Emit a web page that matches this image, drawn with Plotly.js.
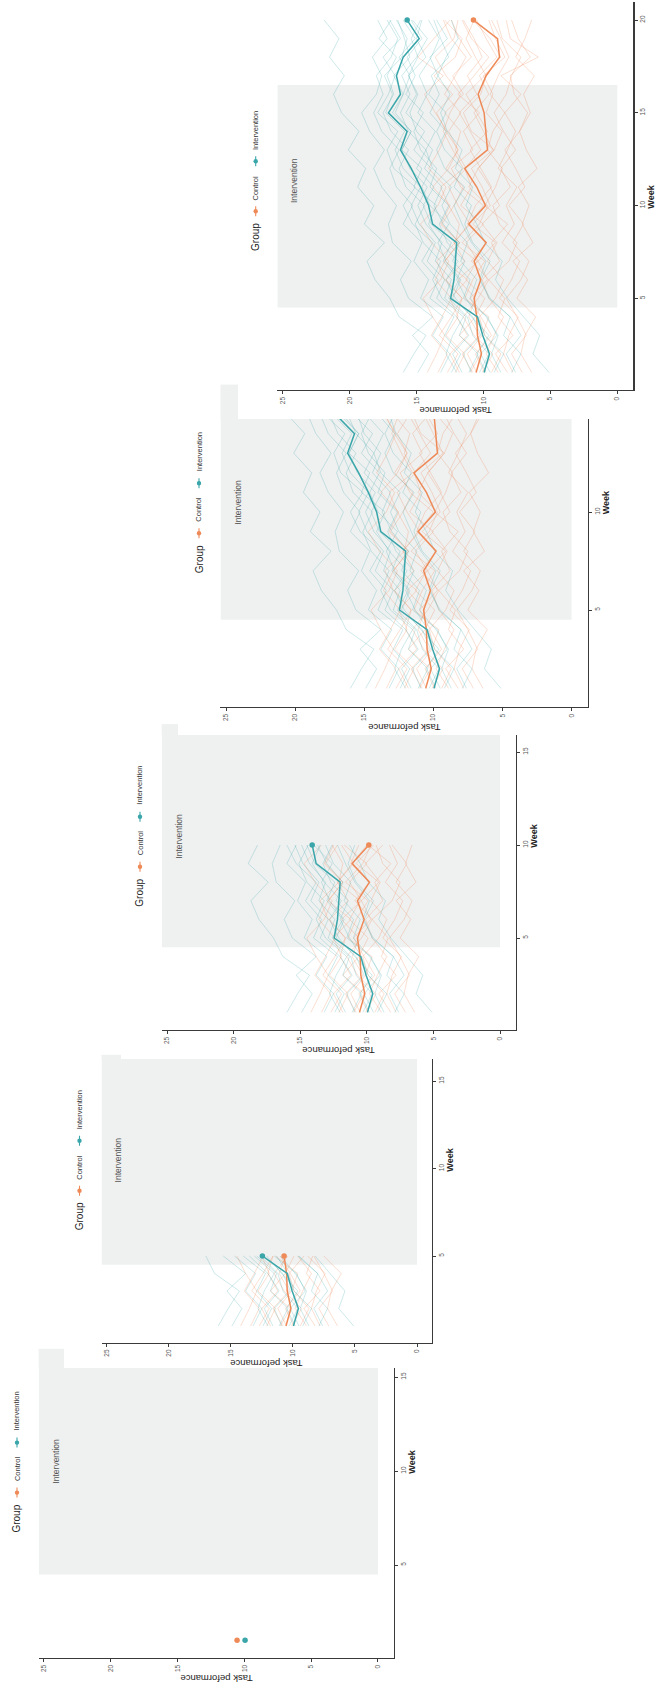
<!DOCTYPE html>
<html><head><meta charset="utf-8">
<script src="https://cdn.plot.ly/plotly-3.0.1.min.js"></script>
<style>html,body{margin:0;padding:0;background:#fff;}#chart{width:656px;height:1690px;}</style>
</head><body><div id="chart"></div>
<script>
// ---------------- DATA ----------------
const weeks = [1,2,3,4,5,6,7,8,9,10,11,12,13,14,15,16,17,18,19,20];
const taskTicks = [0,5,10,15,20,25];
const weekTicks = [5,10,15,20];
const groupNames = ['Control','Intervention'];
const framesShown = [1,5,10,15,20];          // weeks revealed in each successive frame
const interventionWeeks = [4.5, 16.5];

const controlMean = [10.55,10.15,10.45,10.5,10.7,10.2,10.7,9.8,11.1,9.85,10.5,11.4,9.7,9.8,9.95,10.4,9.8,8.8,8.95,10.75];
const interventionMean = [9.95,9.55,10.05,10.45,12.45,12.2,12.1,12.0,13.8,14.1,14.7,15.4,16.2,15.7,17.1,16.2,16.5,16.0,14.8,15.7];

const controlSubjects = [
 [12.1,11.4,12.8,11.9,12.5,11.2,12.9,11.8,13.1,12.2,11.5,12.8,11.9,12.6,11.7,12.9,12.1,11.3,12.4,13.0],
 [8.2,9.1,7.8,8.9,8.4,9.6,8.1,7.5,8.8,9.3,8.0,8.7,7.6,8.5,9.2,8.3,7.9,7.2,8.6,9.0],
 [10.5,11.2,10.1,9.6,11.4,10.8,9.9,11.6,10.3,9.7,11.1,10.4,9.2,10.9,11.5,10.2,9.8,10.6,11.3,10.7],
 [13.4,12.7,13.9,13.1,12.4,13.6,12.9,11.8,13.2,12.5,13.8,12.6,11.9,12.8,13.5,12.3,13.7,12.1,11.6,12.9],
 [7.1,7.9,6.8,7.5,8.3,7.2,6.6,7.8,7.0,8.1,6.9,7.6,8.4,7.3,6.7,7.7,8.0,6.5,7.4,7.9],
 [11.0,10.2,11.8,10.6,9.9,11.3,10.5,12.2,11.1,10.0,11.7,12.4,10.8,11.5,10.3,11.9,10.7,9.6,10.9,11.6],
 [9.4,8.7,9.9,10.3,9.1,8.5,9.7,9.0,10.1,8.8,9.5,10.4,9.2,8.6,9.8,9.3,10.0,8.4,9.1,9.6],
 [14.2,13.5,12.9,13.8,14.5,13.2,12.6,13.9,14.7,13.4,12.8,14.1,13.3,12.7,13.6,14.4,13.0,14.9,13.7,12.5],
 [10.1,9.3,10.7,11.5,10.4,9.6,10.9,9.8,11.2,10.6,9.4,10.2,11.0,9.7,10.5,11.3,9.9,8.7,9.5,10.8],
 [6.4,7.2,6.9,6.1,7.5,6.7,7.8,6.3,7.1,6.6,7.4,6.0,6.8,7.3,6.5,7.0,6.2,7.6,6.9,6.4],
 [11.8,12.5,11.2,12.0,11.6,12.8,11.4,12.2,11.0,11.9,12.6,11.3,12.1,11.7,12.9,11.5,12.3,10.9,11.8,12.4],
 [8.9,9.8,9.2,8.5,9.6,10.1,8.8,9.4,8.2,9.9,9.1,8.6,9.7,9.3,8.4,9.5,8.9,8.1,8.7,9.4],
 [12.7,11.9,13.3,12.4,11.6,12.9,13.5,12.1,11.8,12.6,13.2,11.5,12.3,13.0,12.5,11.7,12.8,13.6,12.2,11.9],
 [9.9,10.6,9.4,10.2,11.0,9.7,10.4,9.1,10.8,9.5,10.1,10.9,9.3,10.0,10.7,9.6,10.3,9.0,9.8,10.5],
 [7.8,8.5,8.1,7.4,8.8,7.9,7.3,8.6,7.7,8.3,7.5,8.9,8.2,7.6,8.4,7.2,8.7,5.9,8.0,8.3],
 [10.8,11.6,10.3,11.1,10.6,11.9,10.4,11.3,10.0,11.7,10.9,11.4,10.2,11.0,11.8,10.5,11.2,10.1,10.7,11.5]
];
const interventionSubjects = [
 [9.8,10.5,9.6,10.9,12.1,12.8,11.9,13.2,14.1,13.5,15.2,14.6,16.1,15.4,16.8,16.0,15.5,16.3,15.1,16.0],
 [12.4,11.7,12.9,12.2,14.0,13.4,14.6,13.8,15.3,16.0,15.1,16.7,17.2,16.4,17.9,17.1,16.6,17.5,16.2,17.0],
 [7.6,8.3,7.2,8.0,9.5,10.3,9.8,10.9,11.6,12.2,11.4,12.9,13.5,12.8,14.0,13.3,13.9,12.6,13.2,13.7],
 [14.9,14.1,15.3,13.8,15.6,16.2,15.4,16.8,17.1,16.5,17.6,18.2,17.4,18.5,19.1,18.0,17.6,18.3,17.2,17.9],
 [10.3,9.6,10.8,11.2,12.6,11.8,13.0,12.4,13.9,14.5,13.7,15.0,14.3,15.6,16.2,15.5,16.1,15.0,14.2,15.3],
 [5.1,6.3,5.8,7.0,8.2,9.1,8.6,9.9,10.5,11.3,10.8,12.1,11.6,12.7,13.2,12.5,13.4,12.8,11.9,12.4],
 [11.6,12.3,11.1,12.0,13.5,12.9,14.2,13.6,14.8,15.4,14.7,16.0,16.6,15.9,17.3,16.8,17.4,16.1,15.7,16.5],
 [8.7,9.4,8.9,9.8,11.0,10.5,11.7,11.2,12.5,13.1,12.4,13.8,14.3,13.6,14.9,14.2,14.8,13.9,13.3,14.1],
 [13.2,12.5,13.8,13.0,14.7,14.1,15.2,14.6,16.0,15.3,16.5,17.0,16.3,17.6,18.2,17.5,18.0,16.9,16.4,17.2],
 [9.2,8.5,9.9,10.4,11.3,12.0,11.4,12.7,13.3,12.6,14.0,13.5,14.7,15.2,14.5,15.8,15.1,15.7,14.6,15.4],
 [16.0,15.2,14.3,16.3,17.0,18.1,18.7,17.4,18.9,18.2,19.4,18.8,20.1,19.3,20.6,21.2,20.4,21.5,20.8,21.9],
 [10.9,11.5,10.2,10.8,12.3,11.7,12.8,13.4,12.6,14.0,14.6,13.9,15.2,14.4,15.8,15.0,15.6,14.9,15.4,14.7],
 [7.9,7.2,8.5,8.0,9.6,10.2,9.5,10.8,11.4,10.9,12.2,11.6,12.9,13.5,12.8,14.1,13.4,14.0,12.7,13.5],
 [12.0,12.8,12.3,11.5,13.1,13.8,13.2,14.5,15.1,14.4,15.8,16.3,15.6,16.9,17.5,16.7,17.2,16.5,17.8,16.9],
 [9.5,10.2,9.0,9.7,11.5,11.0,12.3,11.8,13.0,13.7,13.1,14.4,13.8,15.0,15.5,14.9,15.6,14.3,15.0,14.6],
 [11.1,10.4,11.8,11.3,12.9,12.4,13.6,13.1,14.3,14.9,14.2,15.5,16.1,15.4,16.6,16.0,16.7,15.5,15.9,16.4]
];

// ---------------- LAYOUT / STYLE ----------------
const W = 656, H = 1690;
const TASK_RANGE = [25.4, -1.2];
const WEEK_MIN = 0.05, WEEK_MAX = 20.95;
const COL = {Control: '#EE8A58', Intervention: '#3AA6AA'};
const FAINT = {Control: 'rgba(238,138,88,0.27)', Intervention: 'rgba(58,166,170,0.25)'};
const GREY = '#EFF0F0';
const FONT = 'Liberation Sans, Arial, Helvetica, sans-serif';

// pixel placement of each frame (frames overlap like a staircase)
const panels = [
  {x25: 44,    x0: 378,   y5: 1565,  s: 18.8,  cut: 1368, tabEnd: 64,  shift: 0},
  {x25: 106.5, x0: 417,   y5: 1256,  s: 17.5,  cut: 1059, tabEnd: 121, shift: 0},
  {x25: 167,   x0: 500,   y5: 938,   s: 18.6,  cut: 735,  tabEnd: 178, shift: 0},
  {x25: 226,   x0: 571.5, y5: 610,   s: 19.6,  cut: 419,  tabEnd: 238, shift: 0},
  {x25: 282.7, x0: 617.3, y5: 298.3, s: 18.55, cut: null, tabEnd: null, shift: -16}
];

const px = v => v / W;
const py = v => 1 - v / H;

const traces = [];
const layout = {
  width: W, height: H, margin: {l: 0, r: 0, t: 0, b: 0},
  paper_bgcolor: '#ffffff', plot_bgcolor: 'rgba(0,0,0,0)',
  showlegend: false, font: {family: FONT, color: '#333'},
  shapes: [], annotations: []
};

panels.forEach((p, i) => {
  const k = (p.x0 - p.x25) / 25;
  const taskPx = v => p.x0 - v * k;
  const weekPx = w => p.y5 - (w - 5) * p.s;
  const leftPx = taskPx(TASK_RANGE[0]), rightPx = taskPx(TASK_RANGE[1]);
  const bottomPx = weekPx(WEEK_MIN);
  const topPx = p.cut !== null ? p.cut : weekPx(WEEK_MAX);
  const weekTop = 5 + (p.y5 - topPx) / p.s;
  const sfx = i === 0 ? '' : String(i + 1);
  const xr = 'x' + sfx, yr = 'y' + sfx;

  layout['xaxis' + sfx] = {
    domain: [px(leftPx), px(rightPx)], range: TASK_RANGE, anchor: yr,
    showgrid: false, zeroline: false, showline: true, linecolor: '#3a3a3a', linewidth: 1.2,
    ticks: 'outside', ticklen: 3, tickwidth: 1, tickcolor: '#3a3a3a',
    tickmode: 'array', tickvals: taskTicks, ticktext: taskTicks.map(String),
    tickangle: -90, tickfont: {size: 6.5, color: '#555', family: FONT}, fixedrange: true
  };
  layout['yaxis' + sfx] = {
    domain: [py(bottomPx), py(topPx)], range: [WEEK_MIN, weekTop], anchor: xr, side: 'right',
    showgrid: false, zeroline: false, showline: true, linecolor: '#3a3a3a', linewidth: 1.2,
    ticks: 'outside', ticklen: 3, tickwidth: 1, tickcolor: '#3a3a3a',
    tickmode: 'array', tickvals: weekTicks, ticktext: weekTicks.map(String),
    tickangle: -90, tickfont: {size: 6.5, color: '#555', family: FONT}, fixedrange: true
  };

  // intervention period band
  layout.shapes.push({type: 'rect', xref: xr, yref: yr, x0: 0, x1: TASK_RANGE[0],
    y0: interventionWeeks[0], y1: interventionWeeks[1], fillcolor: GREY, line: {width: 0}, layer: 'below'});
  if (p.tabEnd !== null) {
    layout.shapes.push({type: 'rect', xref: 'paper', yref: 'paper',
      x0: px(leftPx), x1: px(p.tabEnd), y0: py(topPx), y1: py(weekPx(interventionWeeks[1])),
      fillcolor: GREY, line: {width: 0}, layer: 'below'});
  }

  const n = framesShown[i];
  const wk = weeks.slice(0, n);
  const addGroup = (subjects, name) => {
    subjects.forEach(s => traces.push({x: s.slice(0, n), y: wk, xaxis: xr, yaxis: yr, type: 'scatter',
      mode: 'lines', line: {color: FAINT[name], width: 1}, hoverinfo: 'skip'}));
  };
  addGroup(controlSubjects, 'Control');
  addGroup(interventionSubjects, 'Intervention');
  [[controlMean, 'Control'], [interventionMean, 'Intervention']].forEach(([m, name]) => {
    traces.push({x: m.slice(0, n), y: wk, xaxis: xr, yaxis: yr, type: 'scatter', mode: 'lines',
      line: {color: COL[name], width: 1.5}, hoverinfo: 'skip'});
    traces.push({x: [m[n - 1]], y: [weeks[n - 1]], xaxis: xr, yaxis: yr, type: 'scatter', mode: 'markers',
      marker: {color: COL[name], size: 5.5}, hoverinfo: 'skip'});
  });

  // axis titles
  layout.annotations.push({text: 'Task peformance', xref: xr, yref: 'paper',
    x: (TASK_RANGE[0] + TASK_RANGE[1]) / 2, y: py(bottomPx + 21), xanchor: 'center', yanchor: 'middle',
    textangle: 180, showarrow: false, font: {size: 9.5, color: '#222', family: FONT}});
  layout.annotations.push({text: '<b>Week</b>', xref: 'paper', yref: yr,
    x: px(rightPx + 18), y: 10.5, xanchor: 'center', yanchor: 'middle',
    textangle: -90, showarrow: false, font: {size: 9, color: '#222', family: FONT}});
  // label inside band
  layout.annotations.push({text: 'Intervention', xref: xr, yref: 'paper',
    x: 24.1, y: py(weekPx(10.5) + p.shift), xanchor: 'center', yanchor: 'middle',
    textangle: -90, showarrow: false, font: {size: 8.5, color: '#555', family: FONT}});

  // legend (rotated)
  const lx = p.x25 - 27;
  const cy = weekPx(10.5) + p.shift;
  layout.annotations.push({text: 'Group', xref: 'paper', yref: 'paper', x: px(lx), y: py(cy + 57),
    xanchor: 'center', yanchor: 'middle', textangle: -90, showarrow: false,
    font: {size: 10, color: '#222', family: FONT}});
  const items = [[groupNames[0], 31, 7.5], [groupNames[1], -19, -50]];
  items.forEach(([name, keyOff, txtOff]) => {
    const ky = cy + keyOff;
    layout.shapes.push({type: 'line', xref: 'paper', yref: 'paper', x0: px(lx), x1: px(lx),
      y0: py(ky - 5), y1: py(ky + 5), line: {color: COL[name], width: 1.1}});
    layout.shapes.push({type: 'circle', xref: 'paper', yref: 'paper', x0: px(lx - 2.2), x1: px(lx + 2.2),
      y0: py(ky + 2.2), y1: py(ky - 2.2), fillcolor: COL[name], line: {width: 0}});
    layout.annotations.push({text: name, xref: 'paper', yref: 'paper', x: px(lx), y: py(cy + txtOff),
      xanchor: 'center', yanchor: 'middle', textangle: -90, showarrow: false,
      font: {size: 7.5, color: '#333', family: FONT}});
  });
});

Plotly.newPlot('chart', traces, layout, {staticPlot: true, displayModeBar: false});
</script></body></html>
